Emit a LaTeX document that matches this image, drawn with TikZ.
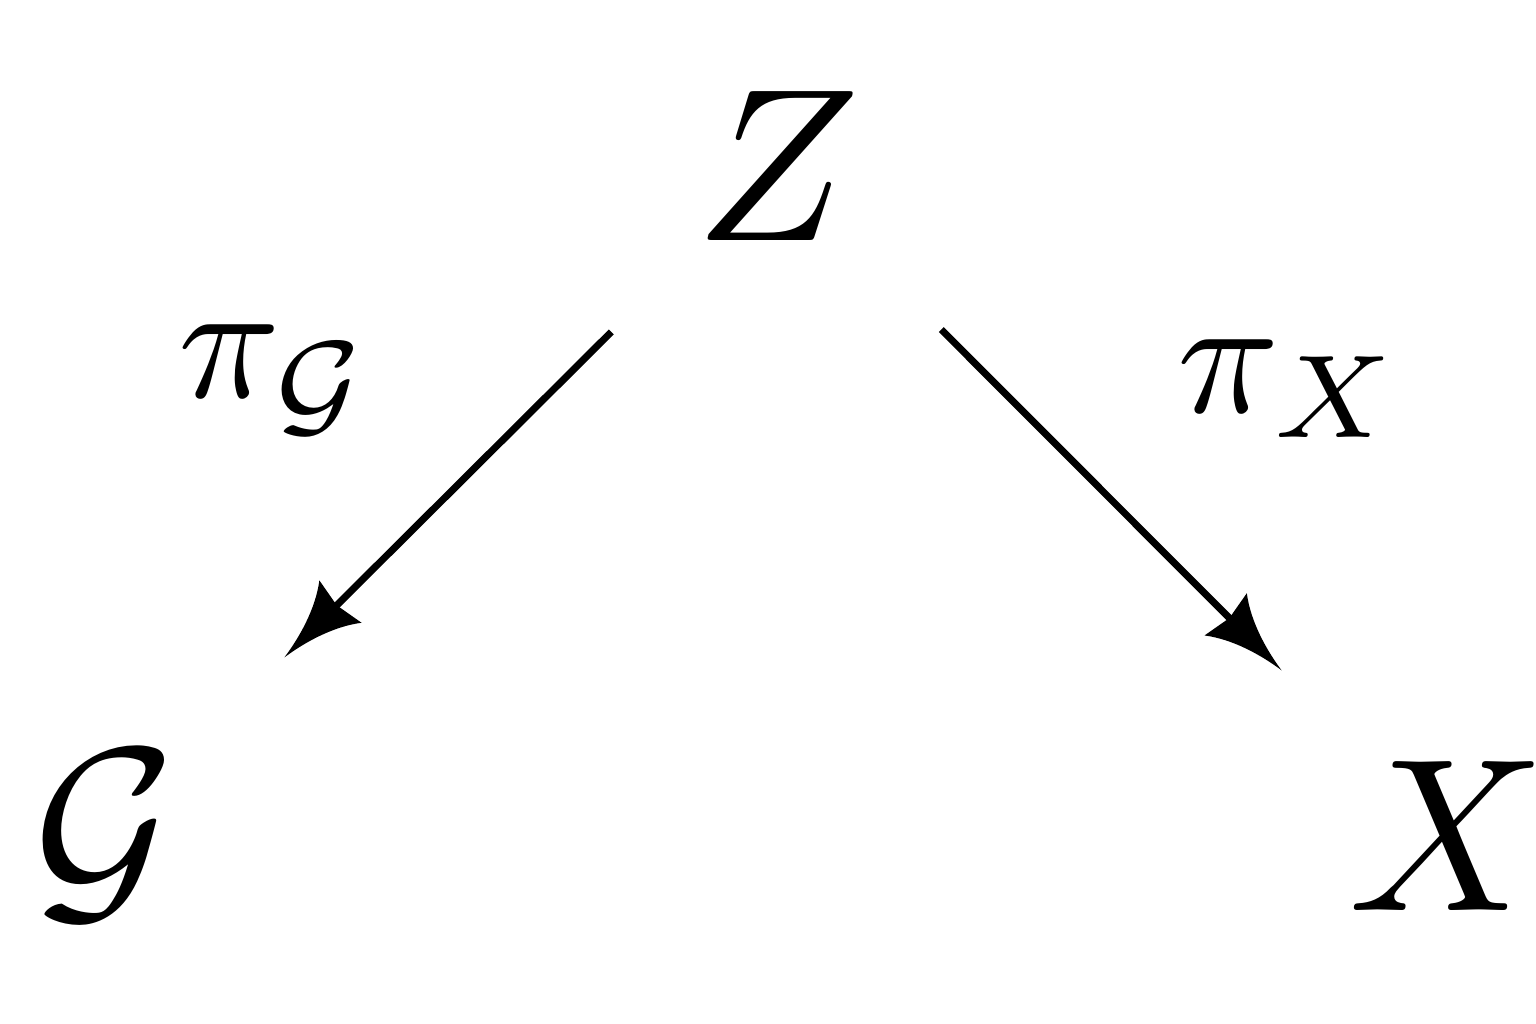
\documentclass[tikz,border=0pt]{standalone}
\usepackage{graphicx}
\usetikzlibrary{arrows.meta}
\pgfdeclarearrow{
  name = Cusp,
  setup code = {
    \pgfarrowssettipend{0pt}
    \pgfarrowssetlineend{-15pt}
    \pgfarrowssetbackend{-22.5pt}
    \pgfarrowssetvisualbackend{-21pt}
    \pgfarrowshullpoint{0pt}{0pt}
    \pgfarrowshullpoint{-22.5pt}{8.5pt}
    \pgfarrowshullpoint{-22.5pt}{-8.5pt}
  },
  drawing code = {
    \pgfpathmoveto{\pgfqpoint{0pt}{0pt}}
    \pgfpathcurveto{\pgfqpoint{-7pt}{1pt}}{\pgfqpoint{-16pt}{3.5pt}}{\pgfqpoint{-22.5pt}{8.5pt}}
    \pgfpathlineto{\pgfqpoint{-21pt}{0pt}}
    \pgfpathlineto{\pgfqpoint{-22.5pt}{-8.5pt}}
    \pgfpathcurveto{\pgfqpoint{-16pt}{-3.5pt}}{\pgfqpoint{-7pt}{-1pt}}{\pgfqpoint{0pt}{0pt}}
    \pgfpathclose
    \pgfusepathqfill
  }
}
\newcommand{\objtext}[1]{\scalebox{6.2}{\normalsize$#1$}}
\newcommand{\labtext}[1]{\scalebox{4.8}{\normalsize$#1$}}
\begin{document}
\begin{tikzpicture}[x=0.01cm,y=-0.01cm,
  obj/.style={inner sep=0pt},
  lab/.style={inner sep=0pt},
  mapto/.style={line width=2pt,-{Cusp}}]
\useasboundingbox (0,0) rectangle (1536,1024);
\node[obj] (Z) at (778,166) {\objtext{Z}};
\node[obj] (G) at (105,836) {\objtext{\mathcal{G}}};
\node[obj] (X) at (1447,836) {\objtext{X}};
\draw[mapto, shorten <=2.35cm, shorten >=2.53cm] (Z.center) -- (G.center);
\draw[mapto, shorten <=2.31cm, shorten >=2.34cm] (Z.center) -- (X.center);
\node[lab] (lg) at (275,380) {\labtext{\pi_{\mathcal{G}}}};
\node[lab] (lx) at (1290,389) {\labtext{\pi_{X}}};
\end{tikzpicture}
\end{document}
